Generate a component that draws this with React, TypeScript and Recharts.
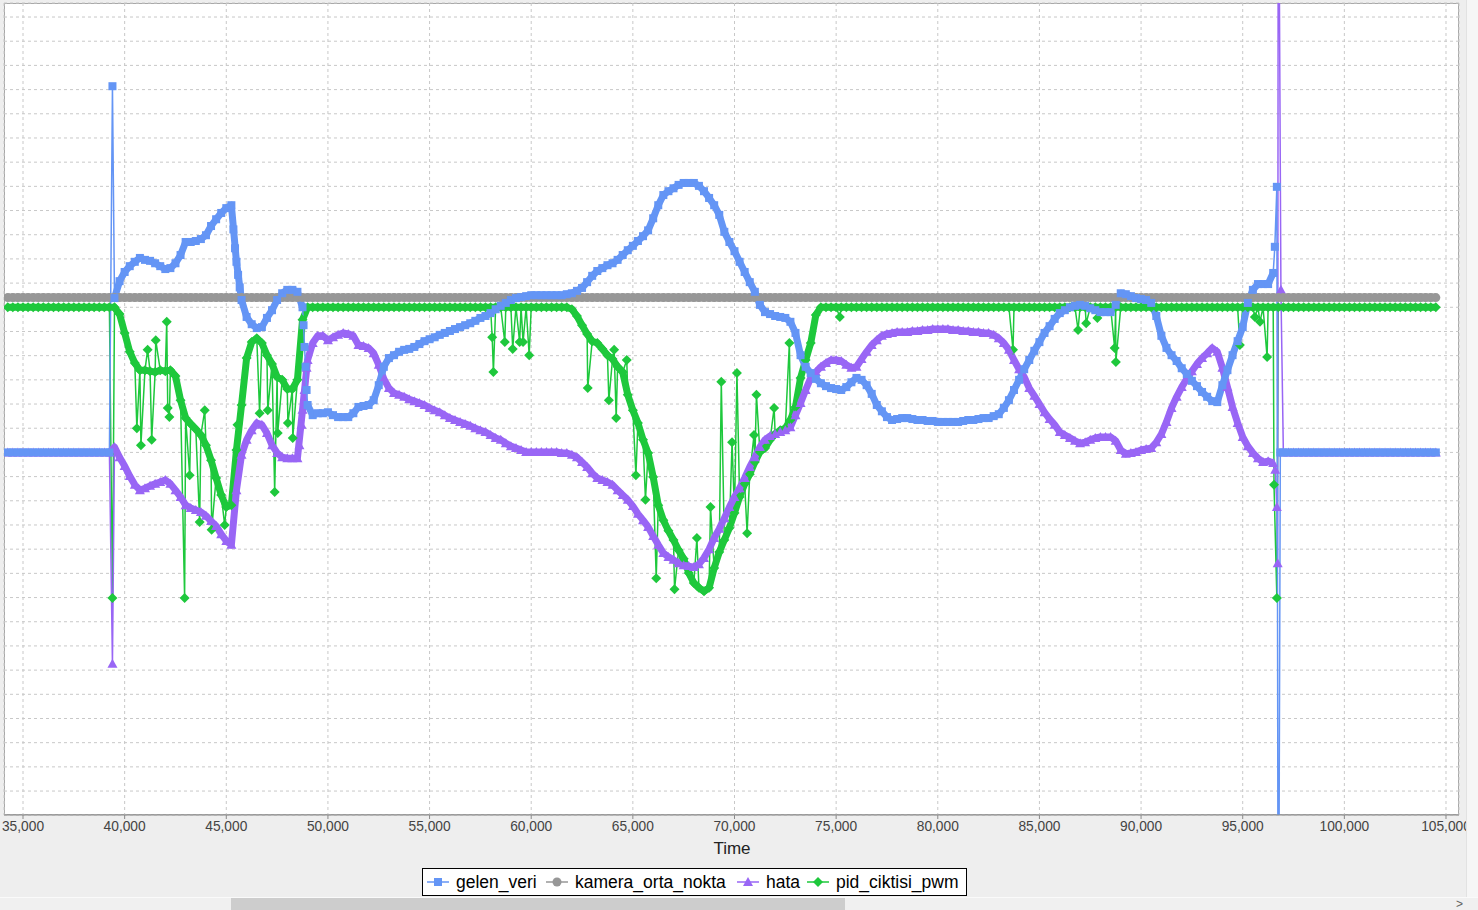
import React from 'react'
import { LineChart, Line, XAxis, YAxis, CartesianGrid } from 'recharts'

// sample times (ms)
const T = [
  34250, 34500, 34750,
  35000, 35250, 35500, 35750, 36000, 36250, 36500, 36750, 37000, 37250, 37500, 37750,
  38000, 38250, 38500, 38750, 39000, 39250, 39500, 39750, 40000, 40250, 40500, 40750,
  41000, 41250, 41500, 41750, 42000, 42250, 42500, 42750, 43000, 43250, 43500, 43750,
  44000, 44250, 44500, 44750, 45000, 45250, 45500, 45750, 46000, 46250, 46500, 46750,
  47000, 47250, 47500, 47750, 48000, 48250, 48500, 48750, 49000, 49250, 49500, 49750,
  50000, 50250, 50500, 50750, 51000, 51250, 51500, 51750, 52000, 52250, 52500, 52750,
  53000, 53250, 53500, 53750, 54000, 54250, 54500, 54750, 55000, 55250, 55500, 55750,
  56000, 56250, 56500, 56750, 57000, 57250, 57500, 57750, 58000, 58250, 58500, 58750,
  59000, 59250, 59500, 59750, 60000, 60250, 60500, 60750, 61000, 61250, 61500, 61750,
  62000, 62250, 62500, 62750, 63000, 63250, 63500, 63750, 64000, 64250, 64500, 64750,
  65000, 65250, 65500, 65750, 66000, 66250, 66500, 66750, 67000, 67250, 67500, 67750,
  68000, 68250, 68500, 68750, 69000, 69250, 69500, 69750, 70000, 70250, 70500, 70750,
  71000, 71250, 71500, 71750, 72000, 72250, 72500, 72750, 73000, 73250, 73500, 73750,
  74000, 74250, 74500, 74750, 75000, 75250, 75500, 75750, 76000, 76250, 76500, 76750,
  77000, 77250, 77500, 77750, 78000, 78250, 78500, 78750, 79000, 79250, 79500, 79750,
  80000, 80250, 80500, 80750, 81000, 81250, 81500, 81750, 82000, 82250, 82500, 82750,
  83000, 83250, 83500, 83750, 84000, 84250, 84500, 84750, 85000, 85250, 85500, 85750,
  86000, 86250, 86500, 86750, 87000, 87250, 87500, 87750, 88000, 88250, 88500, 88750,
  89000, 89250, 89500, 89750, 90000, 90250, 90500, 90750, 91000, 91250, 91500, 91750,
  92000, 92250, 92500, 92750, 93000, 93250, 93500, 93750, 94000, 94250, 94500, 94750,
  95000, 95250, 95500, 95750, 96000, 96250, 96500, 96750, 97000, 97250, 97500, 97750,
  98000, 98250, 98500, 98750, 99000, 99250, 99500, 99750, 100000, 100250, 100500, 100750,
  101000, 101250, 101500, 101750, 102000, 102250, 102500, 102750, 103000, 103250, 103500, 103750,
  104000, 104250, 104500,
]

const GELEN = [
  0, 0, 0,
  0, 0, 0, 0, 0, 0, 0, 0, 0, 0, 0, 0,
  0, 0, 0, 0, 0, 0, 319, 354, 373, 385, 394, 402,
  398, 396, 391, 385, 379, 381, 391, 408, 435, 435, 437, 441,
  449, 468, 482, 495, 505, 511, 394, 315, 280, 265, 257, 259,
  278, 294, 315, 329, 336, 336, 332, 300, 98, 77, 81, 81,
  83, 77, 73, 73, 73, 81, 94, 96, 98, 108, 139, 177,
  195, 201, 208, 212, 214, 218, 224, 230, 234, 238, 243, 247,
  251, 255, 259, 263, 267, 272, 278, 282, 288, 296, 303, 309,
  315, 319, 321, 323, 325, 325, 325, 325, 325, 325, 325, 327,
  329, 334, 340, 352, 365, 375, 381, 387, 391, 398, 408, 418,
  427, 437, 447, 459, 484, 511, 532, 540, 546, 553, 557, 557,
  557, 551, 540, 526, 511, 491, 456, 435, 416, 394, 373, 352,
  332, 305, 290, 286, 282, 280, 278, 270, 247, 201, 177, 164,
  152, 143, 137, 133, 131, 129, 135, 145, 154, 150, 139, 121,
  98, 85, 73, 67, 69, 71, 71, 69, 67, 67, 65, 65,
  63, 63, 63, 63, 63, 65, 67, 67, 69, 71, 71, 75,
  79, 92, 108, 129, 150, 172, 191, 210, 228, 247, 261, 276,
  288, 294, 300, 303, 305, 303, 298, 294, 290, 290, 290, 305,
  329, 327, 323, 319, 317, 315, 309, 282, 241, 216, 201, 189,
  174, 162, 148, 137, 125, 115, 106, 104, 139, 170, 201, 230,
  259, 309, 336, 348, 348, 348, 371, -1300, 0, 0, 0, 0,
  0, 0, 0, 0, 0, 0, 0, 0, 0, 0, 0, 0,
  0, 0, 0, 0, 0, 0, 0, 0, 0, 0, 0, 0,
  0, 0, 0,
]

const KAMERA = [
  320, 320, 320,
  320, 320, 320, 320, 320, 320, 320, 320, 320, 320, 320, 320,
  320, 320, 320, 320, 320, 320, 320, 320, 320, 320, 320, 320,
  320, 320, 320, 320, 320, 320, 320, 320, 320, 320, 320, 320,
  320, 320, 320, 320, 320, 320, 320, 320, 320, 320, 320, 320,
  320, 320, 320, 320, 320, 320, 320, 320, 320, 320, 320, 320,
  320, 320, 320, 320, 320, 320, 320, 320, 320, 320, 320, 320,
  320, 320, 320, 320, 320, 320, 320, 320, 320, 320, 320, 320,
  320, 320, 320, 320, 320, 320, 320, 320, 320, 320, 320, 320,
  320, 320, 320, 320, 320, 320, 320, 320, 320, 320, 320, 320,
  320, 320, 320, 320, 320, 320, 320, 320, 320, 320, 320, 320,
  320, 320, 320, 320, 320, 320, 320, 320, 320, 320, 320, 320,
  320, 320, 320, 320, 320, 320, 320, 320, 320, 320, 320, 320,
  320, 320, 320, 320, 320, 320, 320, 320, 320, 320, 320, 320,
  320, 320, 320, 320, 320, 320, 320, 320, 320, 320, 320, 320,
  320, 320, 320, 320, 320, 320, 320, 320, 320, 320, 320, 320,
  320, 320, 320, 320, 320, 320, 320, 320, 320, 320, 320, 320,
  320, 320, 320, 320, 320, 320, 320, 320, 320, 320, 320, 320,
  320, 320, 320, 320, 320, 320, 320, 320, 320, 320, 320, 320,
  320, 320, 320, 320, 320, 320, 320, 320, 320, 320, 320, 320,
  320, 320, 320, 320, 320, 320, 320, 320, 320, 320, 320, 320,
  320, 320, 320, 320, 320, 320, 320, 320, 320, 320, 320, 320,
  320, 320, 320, 320, 320, 320, 320, 320, 320, 320, 320, 320,
  320, 320, 320, 320, 320, 320, 320, 320, 320, 320, 320, 320,
  320, 320, 320,
]

const HATA = [
  0, 0, 0,
  0, 0, 0, 0, 0, 0, 0, 0, 0, 0, 0, 0,
  0, 0, 0, 0, 0, 0, 11, -10, -28, -49, -67, -78,
  -74, -69, -65, -61, -57, -65, -78, -92, -109, -115, -119, -123,
  -131, -142, -152, -169, -183, -191, -78, -5, 26, 46, 61, 57,
  40, 15, -1, -10, -12, -12, -12, 88, 191, 226, 241, 241,
  232, 238, 243, 247, 245, 241, 222, 220, 216, 205, 181, 152,
  133, 123, 119, 115, 110, 106, 102, 98, 92, 87, 83, 77,
  71, 67, 63, 59, 55, 50, 46, 42, 36, 30, 26, 19,
  13, 9, 5, 1, 1, 1, 1, 1, 1, 1, -1, -1,
  -5, -10, -20, -30, -43, -53, -57, -61, -67, -78, -88, -98,
  -111, -127, -140, -154, -173, -191, -208, -216, -222, -229, -233, -235,
  -237, -231, -218, -200, -177, -158, -136, -113, -92, -74, -53, -30,
  -10, 11, 26, 34, 38, 42, 46, 52, 77, 102, 129, 154,
  166, 177, 185, 191, 191, 189, 181, 175, 177, 193, 208, 222,
  232, 241, 245, 247, 249, 249, 249, 251, 251, 253, 253, 255,
  255, 255, 255, 253, 253, 251, 251, 249, 249, 247, 247, 243,
  236, 226, 212, 191, 172, 156, 133, 117, 100, 83, 69, 57,
  42, 36, 30, 24, 19, 21, 26, 30, 32, 32, 32, 24,
  5, -3, -1, 1, 5, 7, 9, 21, 38, 63, 92, 115,
  135, 152, 168, 183, 195, 205, 216, 208, 175, 135, 94, 61,
  32, 13, -1, -12, -20, -18, -22, 1400, 0, 0, 0, 0,
  0, 0, 0, 0, 0, 0, 0, 0, 0, 0, 0, 0,
  0, 0, 0, 0, 0, 0, 0, 0, 0, 0, 0, 0,
  0, 0, 0,
]

const PID = [
  300, 300, 300,
  300, 300, 300, 300, 300, 300, 300, 300, 300, 300, 300, 300,
  300, 300, 300, 300, 300, 300, 300, 286, 247, 208, 185, 170,
  170, 168, 166, 170, 168, 170, 158, 108, 71, 59, 48, 36,
  15, -16, -53, -88, -113, -109, 5, 98, 195, 228, 236, 226,
  201, 183, 156, 150, 131, 131, 150, 274, 300, 300, 300, 300,
  300, 300, 300, 300, 300, 300, 300, 300, 300, 300, 300, 300,
  300, 300, 300, 300, 300, 300, 300, 300, 300, 300, 300, 300,
  300, 300, 300, 300, 300, 300, 300, 300, 300, 300, 300, 300,
  300, 300, 300, 300, 300, 300, 300, 300, 300, 300, 300, 300,
  296, 282, 263, 245, 230, 226, 214, 201, 193, 177, 166, 119,
  87, 61, 26, -1, -51, -109, -140, -162, -181, -202, -220, -249,
  -270, -280, -287, -280, -239, -206, -181, -156, -125, -92, -65, -45,
  -20, 1, 9, 26, 38, 46, 50, 67, 94, 154, 191, 226,
  284, 300, 300, 300, 300, 300, 300, 300, 300, 300, 300, 300,
  300, 300, 300, 300, 300, 300, 300, 300, 300, 300, 300, 300,
  300, 300, 300, 300, 300, 300, 300, 300, 300, 300, 300, 300,
  300, 300, 300, 300, 300, 300, 300, 300, 300, 300, 300, 300,
  300, 300, 300, 300, 300, 300, 300, 300, 300, 300, 300, 300,
  300, 300, 300, 300, 300, 300, 300, 300, 300, 300, 300, 300,
  300, 300, 300, 300, 300, 300, 300, 300, 300, 300, 300, 300,
  300, 300, 300, 300, 300, 300, 300, 300, 300, 300, 300, 300,
  300, 300, 300, 300, 300, 300, 300, 300, 300, 300, 300, 300,
  300, 300, 300, 300, 300, 300, 300, 300, 300, 300, 300, 300,
  300, 300, 300,
]

// readings taken between the regular samples (spikes, fast edges)
const GELEN_EXTRA = [
  [39400, 757], [45350, 461], [45430, 422], [45580, 367], [45660, 341],
  [48800, 263], [48850, 218], [48900, 177], [48950, 129],
  [96580, 425], [96680, 549], [96850, 0],
]
const HATA_EXTRA = [
  [39400, -437], [48600, 15], [48700, 57], [48850, 129], [48950, 175],
  [96600, -36], [96680, -113], [96720, -229], [96880, 336],
]
const PID_EXTRA = [
  [39400, -301], [40600, 50], [40800, 15], [41130, 212], [41330, 26], [41530, 232],
  [42070, 270], [42120, 92], [42200, 73], [42950, -301], [43200, -47], [43690, -144],
  [43940, 87], [44280, -160], [44920, -150], [45550, 57], [46640, 81], [47040, 87],
  [47380, -82], [47530, 40], [48030, 61], [48270, 30],
  [58080, 238], [58140, 166], [58700, 228], [59090, 214], [59430, 228], [59600, 228], [59900, 201],
  [62780, 133], [63820, 108], [64080, 212], [64180, 71], [64700, 191], [65150, -47],
  [65620, -98], [66150, -260], [67050, -283], [68150, -177], [68820, -113], [69350, 146],
  [69880, 21], [70120, 164], [70620, -167], [70960, 36], [71080, 119], [71950, 92], [72700, 226],
  [75180, 280], [83700, 212], [86900, 253], [87300, 267], [87850, 278], [88700, 216], [88760, 187],
  [94860, 222], [95600, 280], [95850, 270], [96200, 197], [96540, -67], [96680, -301],
]

const X_TICKS = [35000, 40000, 45000, 50000, 55000, 60000, 65000, 70000, 75000, 80000, 85000, 90000, 95000, 100000, 105000]
const Y_TICKS = [-700, -650, -600, -550, -500, -450, -400, -350, -300, -250, -200, -150, -100, -50, 0, 50, 100, 150, 200, 250, 300, 350, 400, 450, 500, 550, 600, 650, 700, 750, 800, 850, 900]

const BLUE = '#6495f5'
const GRAY = '#979797'
const PURPLE = '#9966f5'
const GREEN = '#1ec83c'
const FONT = '"Liberation Sans", Arial, sans-serif'

function buildSeries(values: number[], extra: number[][]) {
  const pts = T.map((t, i) => ({ t, v: values[i] }))
  extra.forEach(([t, v]) => pts.push({ t, v }))
  return pts.sort((a, b) => a.t - b.t)
}

// the densely sampled trace drawn as a solid band, broken at sudden jumps
function bands(values: number[]) {
  const out: { t: number; v: number }[][] = []
  let cur: { t: number; v: number }[] = []
  T.forEach((t, i) => {
    const v = values[i]
    if (cur.length && Math.abs(v - cur[cur.length - 1].v) > 150) {
      out.push(cur)
      cur = []
    }
    cur.push({ t, v })
  })
  out.push(cur)
  return out.filter((r) => r.length > 1)
}

const gelenData = buildSeries(GELEN, GELEN_EXTRA)
const kameraData = buildSeries(KAMERA, [])
const hataData = buildSeries(HATA, HATA_EXTRA)
const pidData = buildSeries(PID, PID_EXTRA)

function marker(shape: string, color: string, x: number, y: number, key: string) {
  if (shape === 'square') return <rect key={key} x={x - 4} y={y - 4} width={8} height={8} fill={color} />
  if (shape === 'circle') return <circle key={key} cx={x} cy={y} r={4.5} fill={color} />
  if (shape === 'triangle')
    return <polygon key={key} points={`${x},${y - 5} ${x + 5},${y + 4} ${x - 5},${y + 4}`} fill={color} />
  return <polygon key={key} points={`${x},${y - 5} ${x + 5},${y} ${x},${y + 5} ${x - 5},${y}`} fill={color} />
}

const dotFor = (shape: string, color: string) => (p: any) => {
  const key = `${shape}-${p.index}`
  if (p.cx == null || p.cy == null) return <g key={key} />
  return marker(shape, color, p.cx, p.cy, key)
}

const SERIES = [
  { name: 'pid_ciktisi_pwm', values: PID, data: pidData, color: GREEN, shape: 'diamond', band: 7 },
  { name: 'hata', values: HATA, data: hataData, color: PURPLE, shape: 'triangle', band: 7 },
  { name: 'kamera_orta_nokta', values: KAMERA, data: kameraData, color: GRAY, shape: 'circle', band: 8 },
  { name: 'gelen_veri', values: GELEN, data: gelenData, color: BLUE, shape: 'square', band: 7 },
]

const LEGEND = [
  { name: 'gelen_veri', color: BLUE, shape: 'square', left: 427 },
  { name: 'kamera_orta_nokta', color: GRAY, shape: 'circle', left: 546 },
  { name: 'hata', color: PURPLE, shape: 'triangle', left: 737 },
  { name: 'pid_ciktisi_pwm', color: GREEN, shape: 'diamond', left: 807 },
]

export default function App() {
  const lines: React.ReactNode[] = []
  SERIES.forEach((s) => {
    bands(s.values).forEach((d, i) => {
      lines.push(
        <Line key={`${s.name}-band-${i}`} data={d} dataKey="v" type="linear" stroke={s.color} strokeWidth={s.band}
          strokeLinejoin="round" dot={false} activeDot={false} isAnimationActive={false} />
      )
    })
    lines.push(
      <Line key={`${s.name}-pts`} data={s.data} dataKey="v" type="linear" stroke={s.color} strokeWidth={1.5}
        dot={dotFor(s.shape, s.color)} activeDot={false} isAnimationActive={false} />
    )
  })

  return (
    <div style={{ position: 'absolute', left: 0, top: 0, width: 1478, height: 910, background: '#eeeeee', overflow: 'hidden', fontFamily: FONT }}>
      {/* plot background + border */}
      <div style={{ position: 'absolute', left: 4, top: 3, width: 1455, height: 812, background: '#fff', border: '1px solid #a8a8a8', boxSizing: 'border-box' }} />
      <div style={{ position: 'absolute', left: 0, top: 0 }}>
        <LineChart width={1478} height={897} margin={{ top: 3, right: 19, left: 4, bottom: 52 }}>
          <CartesianGrid stroke="#c8c8c8" strokeDasharray="3 3" />
          <XAxis
            type="number"
            dataKey="t"
            domain={[34065, 105640]}
            allowDataOverflow
            ticks={X_TICKS}
            interval={0}
            height={30}
            tickSize={4}
            stroke="#8a8a8a"
            tick={{ fill: '#444', fontSize: 13.75, fontFamily: FONT }}
            tickFormatter={(v: number) => v.toLocaleString('en-US')}
          />
          <YAxis
            type="number"
            dataKey="v"
            domain={[-749.5, 929]}
            allowDataOverflow
            ticks={Y_TICKS}
            interval={0}
            width={0}
            tickSize={4}
            stroke="#6e6e6e"
            tickFormatter={() => ''}
          />
          {lines}
        </LineChart>
      </div>
      {/* axis title */}
      <div style={{ position: 'absolute', left: 682, top: 840, width: 100, textAlign: 'center', fontSize: 17, lineHeight: '17px', color: '#222' }}>Time</div>
      {/* legend */}
      <div style={{ position: 'absolute', left: 422, top: 868, width: 545, height: 28, background: '#fff', border: '1px solid #000', boxSizing: 'border-box' }} />
      {LEGEND.map((item) => (
        <div key={item.name} style={{ position: 'absolute', left: item.left, top: 868, height: 28, display: 'flex', alignItems: 'center' }}>
          <svg width={22} height={12}>
            <line x1={0} y1={6} x2={22} y2={6} stroke={item.color} strokeWidth={1.5} />
            {marker(item.shape, item.color, 11, 6, 'm')}
          </svg>
          <span style={{ marginLeft: 7, fontSize: 17.5, color: '#000', whiteSpace: 'nowrap' }}>{item.name}</span>
        </div>
      ))}
      {/* scroll bars of the viewer */}
      <div style={{ position: 'absolute', left: 0, top: 897, width: 1478, height: 13, background: '#f0f0f0', borderTop: '1px solid #fafafa', boxSizing: 'border-box' }} />
      <div style={{ position: 'absolute', left: 231, top: 898, width: 614, height: 12, background: '#cdcdcd' }} />
      <div style={{ position: 'absolute', left: 1456, top: 897, fontSize: 12, color: '#606060' }}>{'>'}</div>
      <div style={{ position: 'absolute', left: 1466, top: 0, width: 12, height: 897, background: '#f6f6f6', borderLeft: '1px solid #e2e2e2', boxSizing: 'border-box' }} />
    </div>
  )
}
